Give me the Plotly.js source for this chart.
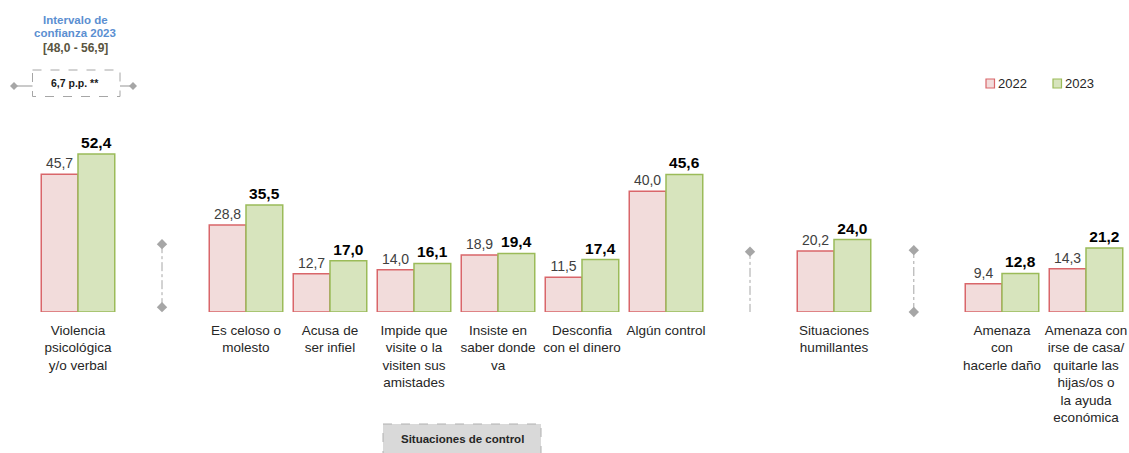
<!DOCTYPE html>
<html>
<head>
<meta charset="utf-8">
<script src="https://cdn.plot.ly/plotly-3.0.1.min.js"></script>
<style>
  html, body { margin: 0; padding: 0; background: #ffffff; }
  #chart { width: 1129px; height: 453px; }
</style>
</head>
<body>
<div id="chart"></div>
<script>
// Category labels (empty slots hold the dotted group separators)
const categories = [
  "Violencia<br>psicológica<br>y/o verbal",
  "",
  "Es celoso o<br>molesto",
  "Acusa de<br>ser infiel",
  "Impide que<br>visite o la<br>visiten sus<br>amistades",
  "Insiste en<br>saber donde<br>va",
  "Desconfia<br>con el dinero",
  "Algún control",
  "",
  "Situaciones<br>humillantes",
  "",
  "Amenaza<br>con<br>hacerle daño",
  "Amenaza con<br>irse de casa/<br>quitarle las<br>hijas/os o<br>la ayuda<br>económica"
];
const values2022 = [45.7, null, 28.8, 12.7, 14.0, 18.9, 11.5, 40.0, null, 20.2, null, 9.4, 14.3];
const values2023 = [52.4, null, 35.5, 17.0, 16.1, 19.4, 17.4, 45.6, null, 24.0, null, 12.8, 21.2];
const seriesNames = ["2022", "2023"];

// Dotted separators between groups of situations
const sepX = [1, 8, 9.95];
const sepTop = [22.5, 20.0, 20.5];
const sepBottom = [1.6, -0.3, 0.0];

const FONT = "'Liberation Sans Narrow', 'Arial Narrow', 'Liberation Sans', Arial, sans-serif";
const slots = categories.map((_, i) => i);

// Plot area in pixels, used to place the decorations drawn in paper space
const M = { l: 36, r: 1, t: 131, b: 141 };
const W = 1129, H = 453;
const pw = W - M.l - M.r, ph = H - M.t - M.b;
const px = x => (x - M.l) / pw;
const py = y => (H - M.b - y) / ph;

const traces = [
  {
    type: "bar", name: seriesNames[0], x: slots, y: values2022,
    marker: { color: "#f2dcdb", line: { color: "#d9666a", width: 1.5 } },
    texttemplate: "%{y:.1f}", textposition: "outside", cliponaxis: false,
    textfont: { family: FONT, size: 14, color: "#404040" },
    hoverinfo: "skip"
  },
  {
    type: "bar", name: seriesNames[1], x: slots, y: values2023,
    marker: { color: "#d7e4bd", line: { color: "#9bbb59", width: 1.5 } },
    texttemplate: "<b>%{y:.1f}</b>", textposition: "outside", cliponaxis: false,
    textfont: { family: FONT, size: 15.5, color: "#000000" },
    hoverinfo: "skip"
  }
];

sepX.forEach((x, i) => {
  traces.push({
    type: "scatter", mode: "lines+markers", x: [x, x], y: [sepBottom[i], sepTop[i]],
    line: { color: "#a6a6a6", width: 1, dash: "dashdot" },
    marker: { symbol: "diamond", size: 8, color: "#a6a6a6" },
    cliponaxis: false, showlegend: false, hoverinfo: "skip"
  });
});

const grey = "#a6a6a6";
const shapes = [
  // Legend swatches
  { type: "rect", xref: "paper", yref: "paper", x0: px(986), x1: px(994.5), y0: py(79), y1: py(88),
    fillcolor: "#f2dcdb", line: { color: "#d9666a", width: 1.2 } },
  { type: "rect", xref: "paper", yref: "paper", x0: px(1053), x1: px(1061.5), y0: py(79), y1: py(88),
    fillcolor: "#d7e4bd", line: { color: "#9bbb59", width: 1.2 } },
  // Difference box with whiskers
  { type: "rect", xref: "paper", yref: "paper", x0: px(32.5), x1: px(120), y0: py(70), y1: py(96.5),
    fillcolor: "rgba(0,0,0,0)", line: { color: grey, width: 1, dash: "dash" } },
  { type: "line", xref: "paper", yref: "paper", x0: px(14), x1: px(32.5), y0: py(86), y1: py(86),
    line: { color: grey, width: 1.2 } },
  { type: "line", xref: "paper", yref: "paper", x0: px(120), x1: px(133), y0: py(86), y1: py(86),
    line: { color: grey, width: 1.2 } },
  { type: "path", xref: "paper", yref: "paper",
    path: `M ${px(10)} ${py(86)} L ${px(14)} ${py(82)} L ${px(18)} ${py(86)} L ${px(14)} ${py(90)} Z`,
    fillcolor: grey, line: { color: grey, width: 0 } },
  { type: "path", xref: "paper", yref: "paper",
    path: `M ${px(129)} ${py(86)} L ${px(133)} ${py(82)} L ${px(137)} ${py(86)} L ${px(133)} ${py(90)} Z`,
    fillcolor: grey, line: { color: grey, width: 0 } },
  // Group label box at the bottom
  { type: "rect", xref: "paper", yref: "paper", x0: px(383), x1: px(541), y0: py(424), y1: py(455),
    fillcolor: "#d9d9d9", line: { color: "#b0b0b0", width: 1, dash: "dash" } }
];

const ann = (x, y, text, size, color, bold, xanchor) => ({
  xref: "paper", yref: "paper", x: px(x), y: py(y), text: bold ? `<b>${text}</b>` : text,
  showarrow: false, xanchor: xanchor || "center", yanchor: "middle",
  font: { family: FONT, size: size, color: color }
});

const annotations = [
  ann(75, 20, "Intervalo de", 11.5, "#5b8fd1", true),
  ann(75, 33, "confianza 2023", 11.5, "#5b8fd1", true),
  ann(75, 48, "[48,0 - 56,9]", 12, "#5a5540", true),
  ann(75, 83, "6,7 p.p. **", 10.5, "#1a1a1a", true),
  ann(996, 83.5, seriesNames[0], 13, "#262626", false, "left"),
  ann(1063, 83.5, seriesNames[1], 13, "#262626", false, "left"),
  ann(462, 438.5, "Situaciones de control", 11.5, "#262626", true)
];

const layout = {
  width: W, height: H,
  margin: M,
  paper_bgcolor: "#ffffff", plot_bgcolor: "#ffffff",
  separators: ",.",
  showlegend: false,
  barmode: "group", bargap: 0.125, bargroupgap: 0,
  font: { family: FONT, size: 13, color: "#262626" },
  xaxis: {
    range: [-0.5, 12.5], tickvals: slots, ticktext: categories,
    showgrid: false, zeroline: false, showline: false, ticks: "",
    ticklabelstandoff: 8,
    tickfont: { family: FONT, size: 13.5, color: "#262626" }, fixedrange: true
  },
  yaxis: { range: [0, 60], visible: false, fixedrange: true },
  shapes: shapes,
  annotations: annotations
};

Plotly.newPlot("chart", traces, layout, { displayModeBar: false, staticPlot: true });
</script>
</body>
</html>
